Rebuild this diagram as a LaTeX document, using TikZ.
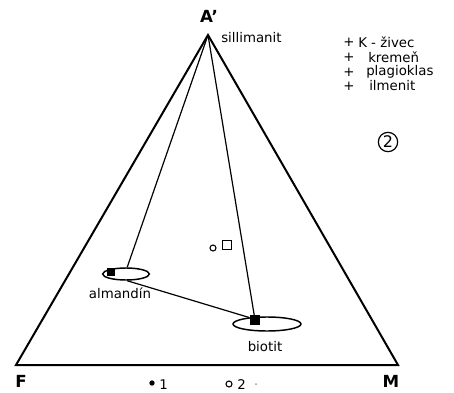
\documentclass[tikz,border=0pt]{standalone}
\usepackage{fontspec}
\setmainfont{DejaVu Sans}
\usetikzlibrary{shapes.geometric}
\tikzset{
  side/.style={line width=1.5pt, line join=miter},
  tie/.style={line width=0.9pt},
  field/.style={ellipse, draw, line width=1.1pt, inner sep=0pt},
  lbl/.style={font=\fontsize{10}{12}\selectfont, inner sep=0pt},
  corner/.style={font=\bfseries\fontsize{12.5}{14}\selectfont, inner sep=0pt},
  fsq/.style={rectangle, fill=black, minimum size=7.5pt, inner sep=0pt},
  osq/.style={rectangle, draw, line width=0.9pt, minimum size=6.5pt, inner sep=0pt},
  ocirc/.style={circle, draw, line width=0.8pt, minimum size=4.5pt, inner sep=0pt},
  fdot/.style={circle, fill=black, minimum size=4pt, inner sep=0pt},
}
\begin{document}
\begin{tikzpicture}[x=0.75pt,y=-0.75pt]
\path[use as bounding box, fill=white] (0,0) rectangle (454,393);
% corners
\coordinate (A) at (208,35);
\coordinate (F) at (16,365);
\coordinate (M) at (398,365);
\draw[side] (F) -- (A) -- (M) -- cycle;
\node[corner] (lA) at (209,16) {A'};
\node[corner] (lF) at (21,381) {F};
\node[corner] (lM) at (391,381) {M};
\node[lbl, anchor=west] (sil) at (221,38) {sillimanit};
% phase fields
\node[field, minimum width=35pt, minimum height=9pt] (alm) at (126,274) {};
\node[fsq, minimum size=6.5pt] (almsq) at (111,272) {};
\node[field, minimum width=51pt, minimum height=10.5pt] (bio) at (267,324) {};
\node[fsq] (biosq) at (255,320) {};
\node[lbl] (almlbl) at (120,293) {almandín};
\node[lbl] (biolbl) at (265,347) {biotit};
% tie lines
\draw[tie] (A) -- (alm.80);
\draw[tie] (A) -- (bio.150);
\draw[tie] (alm.-80) -- (bio.160);
% points
\node[ocirc] (pc) at (213,248) {};
\node[osq] (ps) at (227,245) {};
% assemblage legend
\node[lbl] (p1) at (349,42) {+};
\node[lbl, anchor=west] (k1) at (358,42) {K - živec};
\node[lbl] (p2) at (349,57) {+};
\node[lbl, anchor=west] (k2) at (368,57) {kremeň};
\node[lbl] (p3) at (349,72) {+};
\node[lbl, anchor=west] (k3) at (366,72) {plagioklas};
\node[lbl] (p4) at (349,86) {+};
\node[lbl, anchor=west] (k4) at (369,86) {ilmenit};
\node[circle, draw, line width=0.9pt, minimum size=14.5pt, inner sep=0pt, font=\fontsize{12}{13}\selectfont] (num) at (388,142) {2};
% bottom legend
\node[fdot] (d1) at (152,383) {};
\node[lbl, anchor=west] (l1) at (159,385) {1};
\node[ocirc] (d2) at (229,384) {};
\node[lbl, anchor=west] (l2) at (237,385) {2};
\node[circle, fill=black!40, minimum size=1.5pt, inner sep=0pt] (d3) at (256,384) {};
\end{tikzpicture}
\end{document}
